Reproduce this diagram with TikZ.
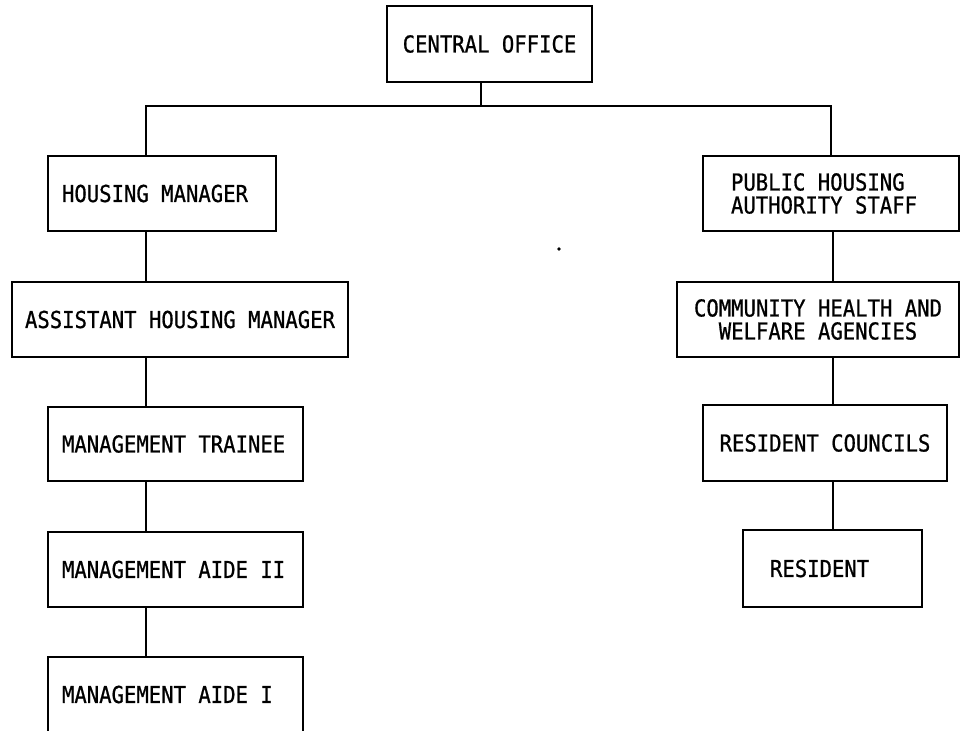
\documentclass[tikz,border=0pt]{standalone}
\usepackage{fontspec}
\newfontfamily\boxfont{DejaVu Sans Mono}[FakeStretch=0.884, FakeBold=0.8]
% a line of text set flush left in a field of fixed width
\newcommand\flushfield[2]{\makebox[#1pt][l]{#2}}
\begin{document}
\begin{tikzpicture}[x=1pt,y=-1pt,
  line width=2.4pt,
  box/.style={draw, inner ysep=0pt, font=\boxfont\fontsize{23.3}{23}\selectfont},
  cbox/.style={box, align=center, inner xsep=0pt},
  lbox/.style={box, align=left},
  link/.style={draw, line width=2.4pt}]
\useasboundingbox (0,0) rectangle (962,731);
\clip (0,0) rectangle (962,731);

% top of the chart
\node[cbox, minimum width=205, minimum height=76] (central) at (489.5,44) {CENTRAL OFFICE};

% left branch: management staff
\node[lbox, inner xsep=14, minimum height=75] (hm) at (162,193.5) {\flushfield{200}{HOUSING MANAGER}};
\node[cbox, minimum width=336, minimum height=75] (ahm) at (180,319.5) {ASSISTANT HOUSING MANAGER};
\node[lbox, inner xsep=14, minimum height=74] (mt) at (175.5,444) {\flushfield{227}{MANAGEMENT TRAINEE}};
\node[lbox, inner xsep=14, minimum height=75] (a2) at (175.5,569.5) {\flushfield{227}{MANAGEMENT AIDE II}};
\node[lbox, inner xsep=14, minimum height=75] (a1) at (175.5,694.5) {\flushfield{227}{MANAGEMENT AIDE I}};

% right branch: authority and residents
\node[lbox, inner xsep=28, minimum height=75] (pha) at (831,193.5) {\flushfield{200}{PUBLIC HOUSING}\\\flushfield{200}{AUTHORITY STAFF}};
\node[cbox, minimum width=282, minimum height=75] (chw) at (818,319.5) {COMMUNITY HEALTH AND\\WELFARE AGENCIES};
\node[cbox, minimum width=244, minimum height=76] (rc) at (825,443) {RESIDENT COUNCILS};
\node[lbox, inner xsep=27, minimum height=77] (res) at (832.5,568.5) {\flushfield{125}{RESIDENT}};

% connector guides
\coordinate (bus) at (481,106);
\coordinate (lcol) at (146,106);
\coordinate (rcol) at (833,106);

\draw[link] (central.south -| bus) -- (bus);
\draw[link] (hm.north -| lcol) -- (lcol) -| (pha.north);

\draw[link] (hm.south -| lcol) -- (ahm.north -| lcol);
\draw[link] (ahm.south -| lcol) -- (mt.north -| lcol);
\draw[link] (mt.south -| lcol) -- (a2.north -| lcol);
\draw[link] (a2.south -| lcol) -- (a1.north -| lcol);

\draw[link] (pha.south -| rcol) -- (chw.north -| rcol);
\draw[link] (chw.south -| rcol) -- (rc.north -| rcol);
\draw[link] (rc.south -| rcol) -- (res.north -| rcol);

% speck
\fill (559,249) circle (1.8);
\end{tikzpicture}
\end{document}
